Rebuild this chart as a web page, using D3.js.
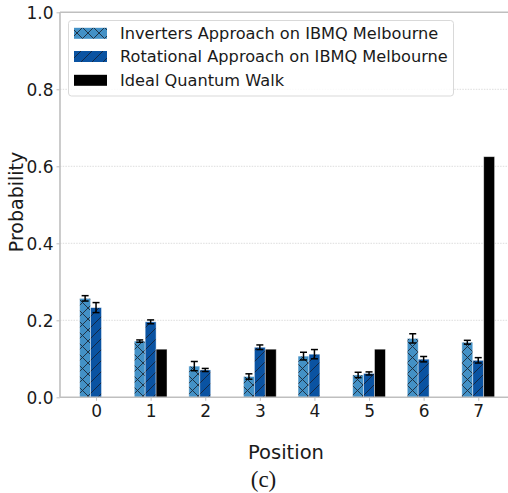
<!DOCTYPE html>
<html>
<head>
<meta charset="utf-8">
<script src="https://cdn.jsdelivr.net/npm/d3@7"></script>
<style>
  html, body { margin: 0; padding: 0; background: #fff; }
  svg { display: block; }
</style>
</head>
<body>
<svg id="chart" width="508" height="493"></svg>
<script>
// Measured probabilities per walker position
const positions = ["0", "1", "2", "3", "4", "5", "6", "7"];
const inverters = [0.257, 0.146, 0.081, 0.054, 0.107, 0.058, 0.153, 0.143];
const invertersErr = [0.007, 0.003, 0.012, 0.007, 0.010, 0.007, 0.012, 0.005];
const rotational = [0.233, 0.196, 0.071, 0.130, 0.112, 0.062, 0.099, 0.096];
const rotationalErr = [0.013, 0.005, 0.004, 0.006, 0.012, 0.004, 0.007, 0.007];
const ideal = [0, 0.125, 0, 0.125, 0, 0.125, 0, 0.625];
const yTicks = [0.0, 0.2, 0.4, 0.6, 0.8, 1.0];
const seriesNames = [
  "Inverters Approach on IBMQ Melbourne",
  "Rotational Approach on IBMQ Melbourne",
  "Ideal Quantum Walk"
];

const svg = d3.select("#chart");
const font = "'DejaVu Sans', sans-serif";
const plotLeft = 60, plotTop = 12.3, plotBottom = 397.3, plotRight = 520;
const barW = 0.2;

const x = d3.scaleLinear().domain([-0.66, 7.66]).range([plotLeft, plotLeft + 8.32 * 54.6]);
const y = d3.scaleLinear().domain([0, 1]).range([plotBottom, plotTop]);

// hatch patterns
const defs = svg.append("defs");
const cross = defs.append("pattern").attr("id", "hatchX")
  .attr("patternUnits", "userSpaceOnUse").attr("width", 11).attr("height", 11);
cross.append("rect").attr("width", 11).attr("height", 11).attr("fill", "#4391c6");
cross.append("path").attr("d", "M0,0L11,11M11,0L0,11M-1,10L1,12M10,-1L12,1M-1,1L1,-1M10,12L12,10")
  .attr("stroke", "#1c2a3a").attr("stroke-width", 0.9);
const slash = defs.append("pattern").attr("id", "hatchSlash")
  .attr("patternUnits", "userSpaceOnUse").attr("width", 11).attr("height", 11);
slash.append("rect").attr("width", 11).attr("height", 11).attr("fill", "#0a53a2");
slash.append("path").attr("d", "M0,11L11,0M-1,1L1,-1M10,12L12,10")
  .attr("stroke", "#14243a").attr("stroke-width", 0.9);

// gridlines
svg.append("g").selectAll("line").data(yTicks.filter(t => t > 0 && t < 1)).join("line")
  .attr("x1", plotLeft).attr("x2", plotRight)
  .attr("y1", d => y(d)).attr("y2", d => y(d))
  .attr("stroke", "#d4d4d4").attr("stroke-width", 0.8).attr("stroke-dasharray", "1.5,1.2");

// bars
const series = [
  { vals: inverters, err: invertersErr, fill: "url(#hatchX)", off: -barW },
  { vals: rotational, err: rotationalErr, fill: "url(#hatchSlash)", off: 0 },
  { vals: ideal, err: null, fill: "#000", off: barW }
];
const barPx = x(barW) - x(0);
series.forEach(s => {
  const g = svg.append("g");
  g.selectAll("rect").data(s.vals).join("rect")
    .attr("x", (d, i) => x(i + s.off) - barPx / 2)
    .attr("width", barPx)
    .attr("y", d => y(d))
    .attr("height", d => y(0) - y(d))
    .attr("fill", s.fill)
    .attr("stroke", "rgba(255,255,255,0.55)").attr("stroke-width", 0.8);
  if (s.err) {
    const eg = svg.append("g").attr("stroke", "#000").attr("stroke-width", 1.5);
    s.vals.forEach((d, i) => {
      const cx = x(i + s.off);
      const y1 = y(d - s.err[i]), y2 = y(d + s.err[i]);
      eg.append("line").attr("x1", cx).attr("x2", cx).attr("y1", y1).attr("y2", y2);
      eg.append("line").attr("x1", cx - 3.5).attr("x2", cx + 3.5).attr("y1", y1).attr("y2", y1);
      eg.append("line").attr("x1", cx - 3.5).attr("x2", cx + 3.5).attr("y1", y2).attr("y2", y2);
    });
  }
});

// spines
const spine = "#bfbfbf";
svg.append("line").attr("x1", plotLeft).attr("x2", plotLeft).attr("y1", plotTop).attr("y2", plotBottom)
  .attr("stroke", spine).attr("stroke-width", 1.6);
svg.append("line").attr("x1", plotLeft).attr("x2", plotRight).attr("y1", plotTop).attr("y2", plotTop)
  .attr("stroke", spine).attr("stroke-width", 1.6);
svg.append("line").attr("x1", plotLeft).attr("x2", plotRight).attr("y1", plotBottom).attr("y2", plotBottom)
  .attr("stroke", spine).attr("stroke-width", 1.6);

// axes
const yAxis = svg.append("g").attr("transform", `translate(${plotLeft},0)`)
  .call(d3.axisLeft(y).tickValues(yTicks).tickFormat(d3.format(".1f")).tickSize(3.5).tickPadding(3));
yAxis.select(".domain").remove();
yAxis.selectAll("line").attr("stroke", spine);
yAxis.selectAll("text").attr("font-family", font).attr("font-size", "17px").attr("fill", "#1a1a1a")
  .attr("dy", "0.36em");

const xAxis = svg.append("g").attr("transform", `translate(0,${plotBottom})`)
  .call(d3.axisBottom(x).tickValues(d3.range(positions.length)).tickFormat(i => positions[i]).tickSize(3.5).tickPadding(4));
xAxis.select(".domain").remove();
xAxis.selectAll("line").attr("stroke", spine);
xAxis.selectAll("text").attr("font-family", font).attr("font-size", "17px").attr("fill", "#1a1a1a");

// axis titles
svg.append("text").attr("transform", "translate(23,202) rotate(-90)")
  .attr("text-anchor", "middle").attr("font-family", font).attr("font-size", "19px")
  .attr("fill", "#1a1a1a").text("Probability");
svg.append("text").attr("x", 286).attr("y", 459)
  .attr("text-anchor", "middle").attr("font-family", font).attr("font-size", "19.5px")
  .attr("fill", "#1a1a1a").text("Position");
svg.append("text").attr("x", 263.5).attr("y", 487)
  .attr("text-anchor", "middle").attr("font-family", "'Liberation Serif', serif").attr("font-size", "23px")
  .attr("fill", "#1a1a1a").text("(c)");

// legend
const lg = svg.append("g");
lg.append("rect").attr("x", 68.5).attr("y", 20.5).attr("width", 385).attr("height", 75.5)
  .attr("rx", 3).attr("fill", "rgba(255,255,255,0.85)").attr("stroke", "#d9d9d9").attr("stroke-width", 1);
const fills = ["url(#hatchX)", "url(#hatchSlash)", "#000"];
const rowsY = [33.3, 56.5, 80.3];
seriesNames.forEach((name, i) => {
  lg.append("rect").attr("x", 74).attr("y", rowsY[i] - 5.5).attr("width", 33).attr("height", 11)
    .attr("fill", fills[i]);
  lg.append("text").attr("x", 120).attr("y", rowsY[i]).attr("dy", "0.36em")
    .attr("font-family", font).attr("font-size", "16.2px").attr("fill", "#1a1a1a").text(name);
});
</script>
</body>
</html>
